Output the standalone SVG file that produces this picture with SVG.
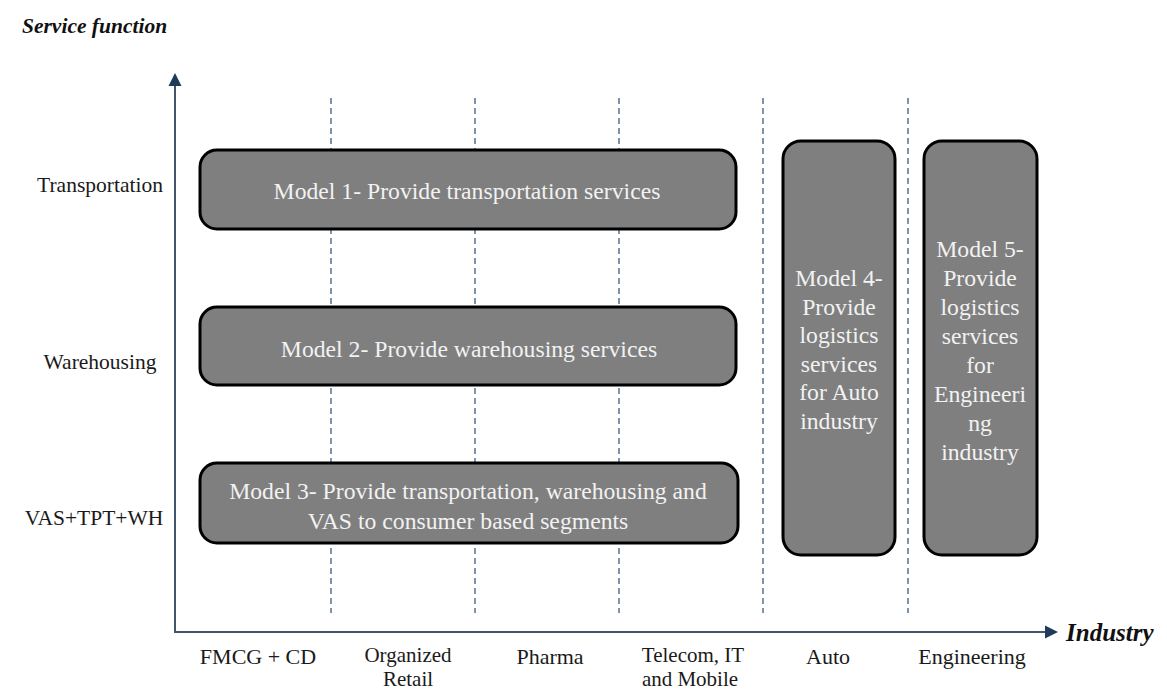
<svg xmlns="http://www.w3.org/2000/svg" width="1167" height="689" viewBox="0 0 1167 689">
<style>
.box{fill:#7f7f7f;stroke:#000;stroke-width:3}
.bt{font-family:'Liberation Serif','Times New Roman',serif;font-size:23.7px;fill:#f2f2f2;text-anchor:middle}
.lbl{font-family:'Liberation Serif','Times New Roman',serif;font-size:22px;fill:#1a1a1a;text-anchor:middle}
.two{font-size:21px}
.ax{font-family:'Liberation Serif','Times New Roman',serif;font-size:21.5px;font-weight:bold;font-style:italic;fill:#111}
.axis{stroke:#44546a;stroke-width:2;fill:none}
.dash{stroke:#2f4d6e;stroke-width:1.2;stroke-dasharray:6 4;fill:none}
.head{fill:#1f3b5a}
</style>
<rect width="1167" height="689" fill="#fff"/>
<g id="connectors">
<line class="dash" x1="331" y1="98" x2="331" y2="613"/>
<line class="dash" x1="475" y1="98" x2="475" y2="613"/>
<line class="dash" x1="619" y1="98" x2="619" y2="613"/>
<line class="dash" x1="763" y1="98" x2="763" y2="613"/>
<line class="dash" x1="908" y1="98" x2="908" y2="613"/>
<line class="axis" x1="175" y1="84" x2="175" y2="633"/>
<line class="axis" x1="174" y1="632" x2="1046" y2="632"/>
<polygon class="head" points="175,73 168.5,86 181.5,86"/>
<polygon class="head" points="1058,632 1045,625.5 1045,638.5"/>
</g>
<g id="axis-labels">
<text class="ax" x="22" y="33">Service function</text>
<text class="ax" x="1066" y="641" style="font-size:25px">Industry</text>
</g>
<g id="row-labels">
<text class="lbl" x="100" y="192" style="font-size:21.5px">Transportation</text>
<text class="lbl" x="100" y="369" style="font-size:21.5px">Warehousing</text>
<text class="lbl" x="94" y="525" style="font-size:21.5px">VAS+TPT+WH</text>
</g>
<g id="col-labels">
<text class="lbl" x="258" y="664">FMCG + CD</text>
<text class="lbl two" x="408" y="662">Organized</text>
<text class="lbl two" x="408" y="686">Retail</text>
<text class="lbl" x="550" y="664">Pharma</text>
<text class="lbl two" x="693" y="662">Telecom, IT</text>
<text class="lbl two" x="690" y="686">and Mobile</text>
<text class="lbl" x="828" y="664">Auto</text>
<text class="lbl" x="972" y="664">Engineering</text>
</g>
<g id="model1">
<rect class="box" x="200" y="150" width="536" height="79" rx="17"/>
<text class="bt" x="467" y="199">Model 1- Provide transportation services</text>
</g>
<g id="model2">
<rect class="box" x="200" y="307" width="536" height="78" rx="17"/>
<text class="bt" x="469" y="357">Model 2- Provide warehousing services</text>
</g>
<g id="model3">
<rect class="box" x="200" y="463" width="538" height="80" rx="17"/>
<text class="bt" x="468" y="499">Model 3- Provide transportation, warehousing and</text>
<text class="bt" x="468" y="529">VAS to consumer based segments</text>
</g>
<g id="model4">
<rect class="box" x="783" y="141" width="112" height="414" rx="18"/>
<text class="bt" x="839" y="286">Model 4-</text>
<text class="bt" x="839" y="315">Provide</text>
<text class="bt" x="839" y="343">logistics</text>
<text class="bt" x="839" y="372">services</text>
<text class="bt" x="839" y="400">for Auto</text>
<text class="bt" x="839" y="429">industry</text>
</g>
<g id="model5">
<rect class="box" x="924" y="141" width="113" height="414" rx="18"/>
<text class="bt" x="980" y="257">Model 5-</text>
<text class="bt" x="980" y="286">Provide</text>
<text class="bt" x="980" y="315">logistics</text>
<text class="bt" x="980" y="344">services</text>
<text class="bt" x="980" y="373">for</text>
<text class="bt" x="980" y="402">Engineeri</text>
<text class="bt" x="980" y="431">ng</text>
<text class="bt" x="980" y="460">industry</text>
</g>
</svg>
